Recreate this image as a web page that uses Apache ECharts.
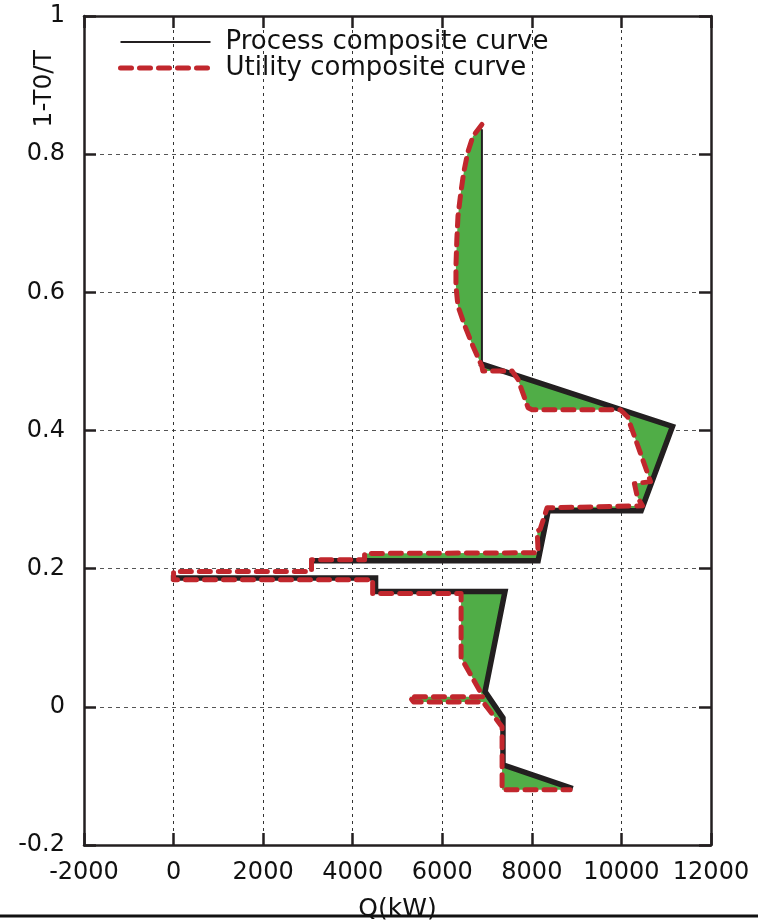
<!DOCTYPE html>
<html>
<head>
<meta charset="utf-8">
<script src="https://cdn.jsdelivr.net/npm/echarts@6/dist/echarts.min.js"></script>
<style>html,body{margin:0;padding:0;background:#fff}#c{width:758px;height:924px}</style>
</head>
<body>
<div id="c"></div>
<script>
// Axis ranges / ticks
const xMin = -2000, xMax = 12000, xStep = 2000;
const yMin = -0.2, yMax = 1, yStep = 0.2;

// Process composite curve (black)
const processTop = [[6885, 0.836], [6885, 0.496]];
const processMain = [[6885, 0.496], [11140, 0.406], [10440, 0.284], [8365, 0.284], [8140, 0.2115], [3100, 0.2115]];
const processLow = [[0, 0.1865], [4510, 0.1865], [4510, 0.167], [7400, 0.167], [6955, 0.022], [7355, -0.016], [7355, -0.084], [8855, -0.117]];

// Utility composite curve (red dashed)
const utility = [
  [6885, 0.843], [6685, 0.826], [6570, 0.803], [6480, 0.774], [6415, 0.745], [6350, 0.710],
  [6325, 0.677], [6305, 0.638], [6305, 0.609], [6350, 0.580], [6505, 0.551], [6685, 0.522],
  [6885, 0.493], [6905, 0.486], [7560, 0.486], [7690, 0.474], [7915, 0.433], [8005, 0.430],
  [9975, 0.430], [10135, 0.420], [10650, 0.326], [10290, 0.323], [10355, 0.304], [10470, 0.291],
  [8340, 0.288], [8185, 0.257], [8120, 0.254], [8140, 0.223], [4265, 0.222], [4265, 0.213],
  [3080, 0.213], [3080, 0.196], [0, 0.196], [0, 0.184], [4445, 0.184], [4445, 0.164],
  [6420, 0.164], [6420, 0.071], [6795, 0.028], [6910, 0.0145], [5270, 0.0145], [5360, 0.007],
  [6910, 0.007], [7335, -0.029], [7335, -0.120], [8855, -0.120]
];

const legendNames = ['Process composite curve', 'Utility composite curve'];

// Region between the two curves (filled green)
const iA = utility.findIndex(p => p[0] === 3080 && p[1] === 0.213);
const iB = utility.findIndex(p => p[0] === 0 && p[1] === 0.196);
const fillPath = processTop.concat(processMain.slice(1), utility.slice(iA, iB + 1), processLow, utility.slice().reverse());

const BLACK = '#231f20', RED = '#c1272d', GREEN = '#50ad47';
const FONT = 'DejaVu Sans';

const chart = echarts.init(document.getElementById('c'), null, {renderer: 'canvas'});
const axisLineStyle = {show: true, onZero: false, lineStyle: {color: BLACK, width: 2.5}};
const tickStyle = {show: true, inside: true, length: 12, lineStyle: {color: BLACK, width: 2.5}};
const redDash = {color: RED, width: 5, type: [11, 8], cap: 'round', join: 'round'};

chart.setOption({
  backgroundColor: '#fff',
  animation: false,
  grid: {left: 84, right: 47, top: 16, bottom: 79, containLabel: false, outerBoundsMode: 'none'},
  legend: {
    data: [
      {name: legendNames[0], lineStyle: {color: BLACK, width: 2}},
      {name: legendNames[1], lineStyle: redDash}
    ],
    orient: 'vertical',
    left: 118, top: 29, padding: 0,
    itemWidth: 90, itemHeight: 14, itemGap: 0,
    itemStyle: {opacity: 0},
    selectedMode: false,
    textStyle: {fontFamily: FONT, fontSize: 26, color: '#111', lineHeight: 26, padding: [0, 0, 0, 10]}
  },
  xAxis: [{
    type: 'value', min: xMin, max: xMax, interval: xStep, position: 'bottom',
    axisLine: axisLineStyle, axisTick: tickStyle,
    axisLabel: {fontFamily: FONT, fontSize: 24, color: '#111', margin: 16, formatter: v => String(v)},
    splitLine: {show: true, lineStyle: {color: '#333', width: 1, type: [3, 4]}},
    name: 'Q(kW)', nameLocation: 'middle', nameGap: 52,
    nameTextStyle: {fontFamily: FONT, fontSize: 25, color: '#111'}
  }, {
    type: 'value', min: xMin, max: xMax, interval: xStep, position: 'top',
    axisLine: axisLineStyle, axisTick: tickStyle,
    axisLabel: {show: false}, splitLine: {show: false}
  }],
  yAxis: [{
    type: 'value', min: yMin, max: yMax, interval: yStep, position: 'left',
    axisLine: axisLineStyle, axisTick: tickStyle,
    axisLabel: {fontFamily: FONT, fontSize: 24, color: '#111', margin: 19,
      formatter: v => String(Math.round(v * 10) / 10)},
    splitLine: {show: true, lineStyle: {color: '#555', width: 1, type: [4, 4]}}
  }, {
    type: 'value', min: yMin, max: yMax, interval: yStep, position: 'right',
    axisLine: axisLineStyle, axisTick: tickStyle,
    axisLabel: {show: false}, splitLine: {show: false}
  }],
  graphic: [
    {type: 'text', left: 32, top: 50, rotation: Math.PI / 2, z: 100,
      style: {text: '1-T0/T', fontFamily: FONT, fontSize: 25, fill: '#111'}},
    {type: 'line', z: 100, shape: {x1: 0, y1: 916, x2: 758, y2: 916},
      style: {stroke: '#111', lineWidth: 3}}
  ],
  series: [
    {
      type: 'custom', name: 'fill', silent: true, z: 1,
      xAxisIndex: 0, yAxisIndex: 0,
      data: [[0, 0]],
      renderItem: function (params, api) {
        const pts = fillPath.map(p => api.coord(p));
        return {type: 'polygon', shape: {points: pts}, style: {fill: GREEN, stroke: null}};
      }
    },
    {
      type: 'line', name: legendNames[0], data: processTop, symbol: 'none', z: 3,
      lineStyle: {color: BLACK, width: 2}, itemStyle: {color: BLACK}
    },
    {
      type: 'line', name: 'p1', data: processMain, symbol: 'none', z: 3,
      lineStyle: {color: BLACK, width: 5.5, join: 'miter', cap: 'square'}, itemStyle: {color: BLACK}
    },
    {
      type: 'line', name: 'p2', data: processLow, symbol: 'none', z: 3,
      lineStyle: {color: BLACK, width: 5.5, join: 'miter', cap: 'square'}, itemStyle: {color: BLACK}
    },
    {
      type: 'line', name: legendNames[1], data: utility, symbol: 'none', z: 4,
      lineStyle: redDash, itemStyle: {color: RED}
    }
  ]
});
</script>
</body>
</html>
